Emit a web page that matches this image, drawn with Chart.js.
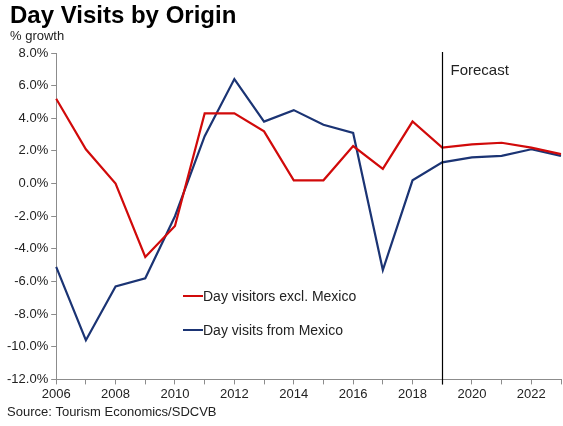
<!DOCTYPE html>
<html>
<head>
<meta charset="utf-8">
<script src="https://cdn.jsdelivr.net/npm/chart.js@4/dist/chart.umd.min.js"></script>
<style>
  html, body { margin: 0; padding: 0; background: #fff; }
  #wrap { width: 563px; height: 426px; position: relative; }
</style>
</head>
<body>
<div id="wrap"><canvas id="chart" width="563" height="426"></canvas></div>
<script>
// Annual % growth in day visits, actuals through 2018, forecast from 2019
const years = [2006, 2007, 2008, 2009, 2010, 2011, 2012, 2013, 2014, 2015, 2016, 2017, 2018, 2019, 2020, 2021, 2022, 2023];
const visitorsExclMexico = [5.2, 2.1, 0.0, -4.5, -2.6, 4.3, 4.3, 3.2, 0.2, 0.2, 2.3, 0.9, 3.8, 2.2, 2.4, 2.5, 2.2, 1.8];
const visitsFromMexico   = [-5.1, -9.6, -6.3, -5.8, -2.0, 2.9, 6.4, 3.8, 4.5, 3.6, 3.1, -5.3, 0.2, 1.3, 1.6, 1.7, 2.1, 1.7];
const seriesNames = ['Day visitors excl. Mexico', 'Day visits from Mexico'];
const forecastStart = 2019;
const yMin = -12, yMax = 8, yStep = 2;

const FONT = '"Liberation Sans", Arial, sans-serif';
const RED = '#d10a0a';
const NAVY = '#1b3474';
const AXIS = '#8c8c8c';

// Title, unit note, source line, forecast divider and the in-plot legend
const annotations = {
  id: 'annotations',
  afterDraw(chart) {
    const { ctx, chartArea, scales } = chart;
    ctx.save();
    ctx.textBaseline = 'alphabetic';
    ctx.textAlign = 'left';
    ctx.fillStyle = '#000';
    ctx.font = 'bold 24px ' + FONT;
    ctx.fillText('Day Visits by Origin', 10, 23);
    ctx.fillStyle = '#222';
    ctx.font = '13px ' + FONT;
    ctx.fillText('% growth', 10, 40);
    ctx.fillText('Source: Tourism Economics/SDCVB', 7, 416);

    // forecast divider
    const fx = Math.round(scales.x.getPixelForValue(years.indexOf(forecastStart))) + 0.5;
    ctx.strokeStyle = '#000';
    ctx.lineWidth = 1.2;
    ctx.beginPath();
    ctx.moveTo(fx, chartArea.top - 1);
    ctx.lineTo(fx, chartArea.bottom + 5);
    ctx.stroke();
    ctx.fillStyle = '#222';
    ctx.font = '15px ' + FONT;
    ctx.fillText('Forecast', fx + 8, 75);

    // legend
    ctx.font = '14px ' + FONT;
    ctx.textBaseline = 'middle';
    chart.data.datasets.forEach((ds, i) => {
      const y = 296 + i * 34;
      ctx.strokeStyle = ds.borderColor;
      ctx.lineWidth = 2;
      ctx.beginPath();
      ctx.moveTo(183, y);
      ctx.lineTo(203, y);
      ctx.stroke();
      ctx.fillStyle = '#222';
      ctx.fillText(ds.label, 203, y + 1);
    });
    ctx.restore();
  }
};

new Chart(document.getElementById('chart'), {
  type: 'line',
  data: {
    labels: years.map(String),
    datasets: [
      { label: seriesNames[0], data: visitorsExclMexico, borderColor: RED, backgroundColor: RED,
        borderWidth: 2.2, pointRadius: 0, tension: 0, fill: false },
      { label: seriesNames[1], data: visitsFromMexico, borderColor: NAVY, backgroundColor: NAVY,
        borderWidth: 2.2, pointRadius: 0, tension: 0, fill: false }
    ]
  },
  options: {
    responsive: false,
    animation: false,
    devicePixelRatio: 1,
    layout: { padding: { top: 53, left: 4, right: 1, bottom: 22 } },
    plugins: {
      legend: { display: false },
      title: { display: false },
      tooltip: { enabled: false }
    },
    scales: {
      x: {
        type: 'category',
        offset: false,
        grid: { display: true, drawOnChartArea: false, drawTicks: true, tickLength: 5, color: AXIS },
        border: { display: true, color: AXIS, width: 1 },
        ticks: {
          autoSkip: false, maxRotation: 0, padding: 2,
          color: '#222', font: { family: FONT, size: 13 },
          callback(value, index) { return index % 2 === 0 ? this.getLabelForValue(value) : ''; }
        }
      },
      y: {
        min: yMin, max: yMax,
        grid: { display: true, drawOnChartArea: false, drawTicks: true, tickLength: 5, color: AXIS },
        border: { display: true, color: AXIS, width: 1 },
        ticks: {
          stepSize: yStep, padding: 3,
          color: '#222', font: { family: FONT, size: 13 },
          callback: v => v.toFixed(1) + '%'
        }
      }
    }
  },
  plugins: [annotations]
});
</script>
</body>
</html>
